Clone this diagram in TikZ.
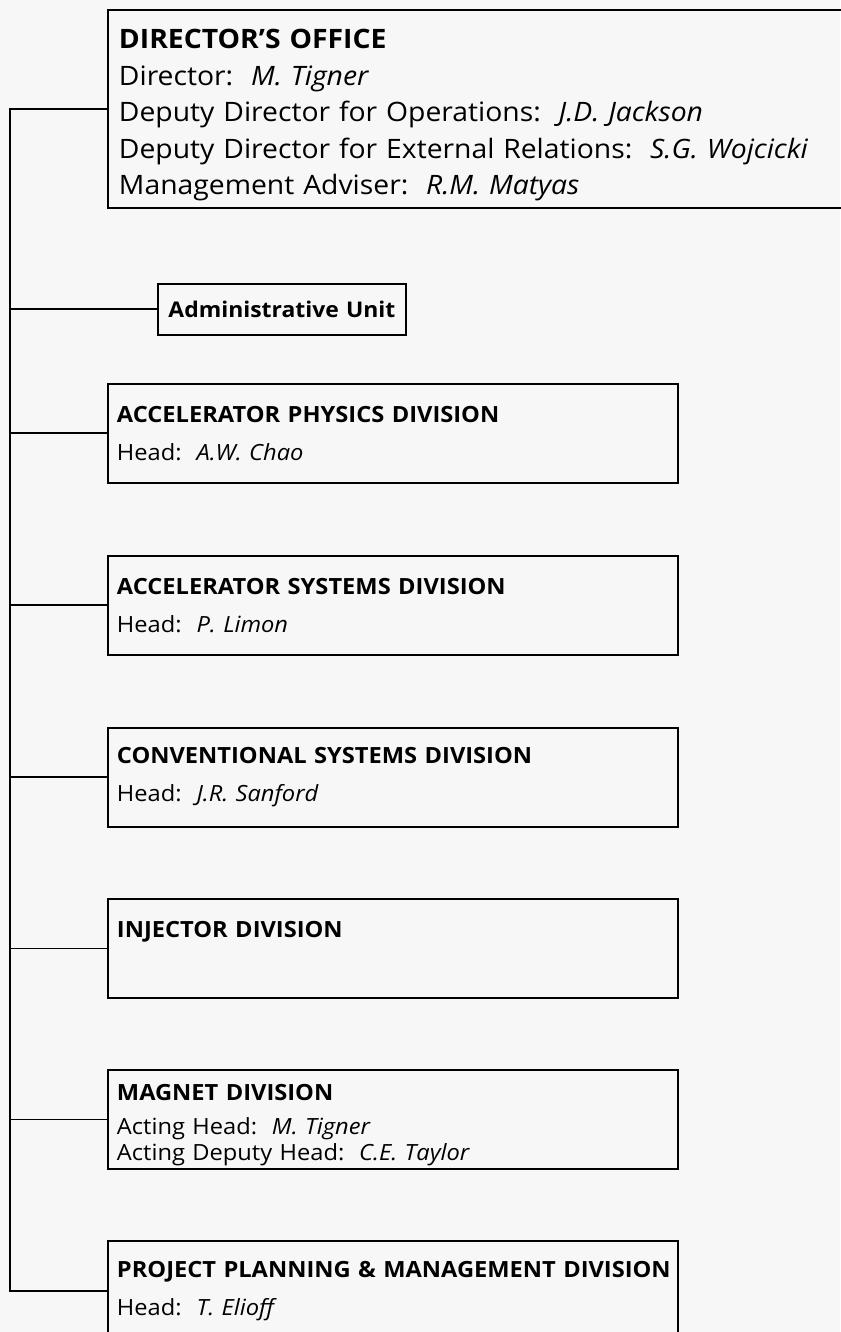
\documentclass[tikz,border=0pt]{standalone}
\usepackage{fontspec}
\setmainfont[FakeStretch=1.06]{Open Sans}
\usepackage{tikz}
\usetikzlibrary{positioning}

\newcommand{\topgap}[1]{\rule{0pt}{#1}}

\begin{document}
\begin{tikzpicture}[
  x=0.02cm, y=-0.02cm,
  line width=1.1pt,
  unit/.style={draw, anchor=north west, align=left, inner xsep=0.18cm, inner ysep=0pt},
  divbox/.style={unit, text width=11.04cm, minimum height=1.98cm, font=\fontsize{12.7}{21.6}\selectfont},
  dirbox/.style={unit, text width=14.42cm, inner xsep=0.22cm, minimum height=3.96cm, font=\fontsize{15.2}{20.8}\selectfont},
]
\useasboundingbox (0,0) rectangle (840,1332);
\fill[black!3] (0,0) rectangle (840,1332);
% szyna pionowa po lewej
\coordinate (bus) at (10,0);
% biuro dyrektora (wychodzi poza prawa krawedz)
\node[dirbox] (dir) at (107,9) {\topgap{18pt}\textbf{DIRECTOR'S OFFICE}\\
  Director:\ \ \textit{M. Tigner}\\
  Deputy Director for Operations:\ \ \textit{J.D. Jackson}\\
  Deputy Director for External Relations:\ \ \textit{S.G. Wojcicki}\\
  Management Adviser:\ \ \textit{R.M. Matyas}};
\node[unit, align=center, text width=4.6cm, minimum height=1.02cm,
  font=\fontsize{12.3}{16}\selectfont\bfseries] (adm) at (157,283) {Administrative Unit};
% wydzialy
\node[divbox] (apd) at (107,383) {\textbf{ACCELERATOR PHYSICS DIVISION}\\ Head:\ \ \textit{A.W. Chao}};
\node[divbox] (asd) at (107,555) {\textbf{ACCELERATOR SYSTEMS DIVISION}\\ Head:\ \ \textit{P. Limon}};
\node[divbox] (csd) at (107,727) {\textbf{CONVENTIONAL SYSTEMS DIVISION}\\ Head:\ \ \textit{J.R. Sanford}};
\node[divbox] (inj) at (107,898) {\textbf{INJECTOR DIVISION}\\ ~};
\node[divbox, font=\fontsize{12.7}{14.8}\selectfont] (mag) at (107,1069) {\topgap{15.8pt}\textbf{MAGNET DIVISION}\\[4.5pt]
  Acting Head:\ \ \textit{M. Tigner}\\ Acting Deputy Head:\ \ \textit{C.E. Taylor}};
\node[divbox, minimum height=2.0cm] (ppm) at (107,1240) {\mbox{\textbf{PROJECT PLANNING \& MANAGEMENT DIVISION}}\\ Head:\ \ \textit{T. Elioff}};
% polaczenia
\draw (dir.west) -- (dir.west -| bus) -- (ppm.west -| bus) -- (ppm.west);
\foreach \n in {adm,apd,asd,csd,inj,mag}
  \draw (\n.west) -- (\n.west -| bus);
\end{tikzpicture}
\end{document}
